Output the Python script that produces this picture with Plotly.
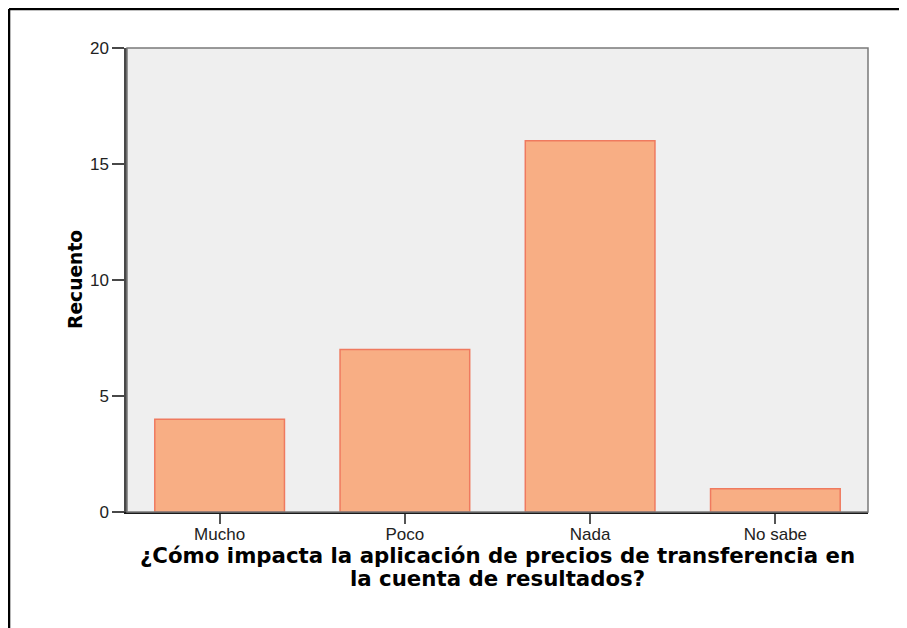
import plotly.graph_objects as go

# --- data ---
categorias = ["Mucho", "Poco", "Nada", "No sabe"]
recuento = [4, 7, 16, 1]
y_ticks = [0, 5, 10, 15, 20]

titulo_x = ["¿Cómo impacta la aplicación de precios de transferencia en",
            "la cuenta de resultados?"]
titulo_y = "Recuento"

fig = go.Figure()

fig.add_trace(go.Bar(
    x=categorias,
    y=recuento,
    width=0.70,
    marker=dict(color="#F8AE84", line=dict(color="#EF7A5F", width=1.5)),
    showlegend=False,
))

# plot frame (gray top/right)
fig.add_shape(type="rect", xref="paper", yref="paper", x0=0, x1=1, y0=0, y1=1,
              line=dict(color="#7a7a7a", width=1.5), layer="above")

# outer image border (left + top)
fig.add_shape(type="line", xref="paper", yref="paper", x0=-0.1592, x1=-0.1592, y0=-0.3, y1=1.084,
              line=dict(color="black", width=2.5))
fig.add_shape(type="line", xref="paper", yref="paper", x0=-0.1592, x1=1.1, y0=1.084, y1=1.084,
              line=dict(color="black", width=2.5))

# axis titles
title_font = dict(family="DejaVu Sans, Verdana, sans-serif", size=21.3, color="black", weight="bold")
for i, linea in enumerate(titulo_x):
    fig.add_annotation(text=linea, xref="paper", yref="paper", x=0.5, y=0,
                       xanchor="center", yanchor="middle", yshift=-43 - 23 * i,
                       showarrow=False, font=title_font)
fig.add_annotation(text=titulo_y, xref="paper", yref="paper", x=0, y=0.5, textangle=-90,
                   xanchor="center", yanchor="middle", xshift=-52, showarrow=False,
                   font=dict(family="DejaVu Sans, Verdana, sans-serif", size=18.7, color="black", weight="bold"))

fig.update_layout(
    width=899,
    height=620,
    margin=dict(l=119, r=39, t=40, b=116),
    paper_bgcolor="white",
    plot_bgcolor="#EFEFEF",
    font=dict(family="Liberation Sans, Arial, sans-serif", size=17, color="#222"),
    bargap=0.30,
    xaxis=dict(
        showline=True, linecolor="#1a1a1a", linewidth=2,
        ticks="outside", ticklen=10, tickcolor="#555", tickwidth=2,
        ticklabelstandoff=-4,
        tickfont=dict(size=17, color="#222"),
    ),
    yaxis=dict(
        range=[0, 20],
        tickvals=y_ticks,
        showgrid=False, zeroline=False,
        showline=True, linecolor="#484848", linewidth=2.5,
        ticks="outside", ticklen=12, tickcolor="#484848", tickwidth=1.5,
        ticklabelstandoff=0,
        tickfont=dict(size=17, color="#222"),
    ),
)

fig.write_html("out.html")
